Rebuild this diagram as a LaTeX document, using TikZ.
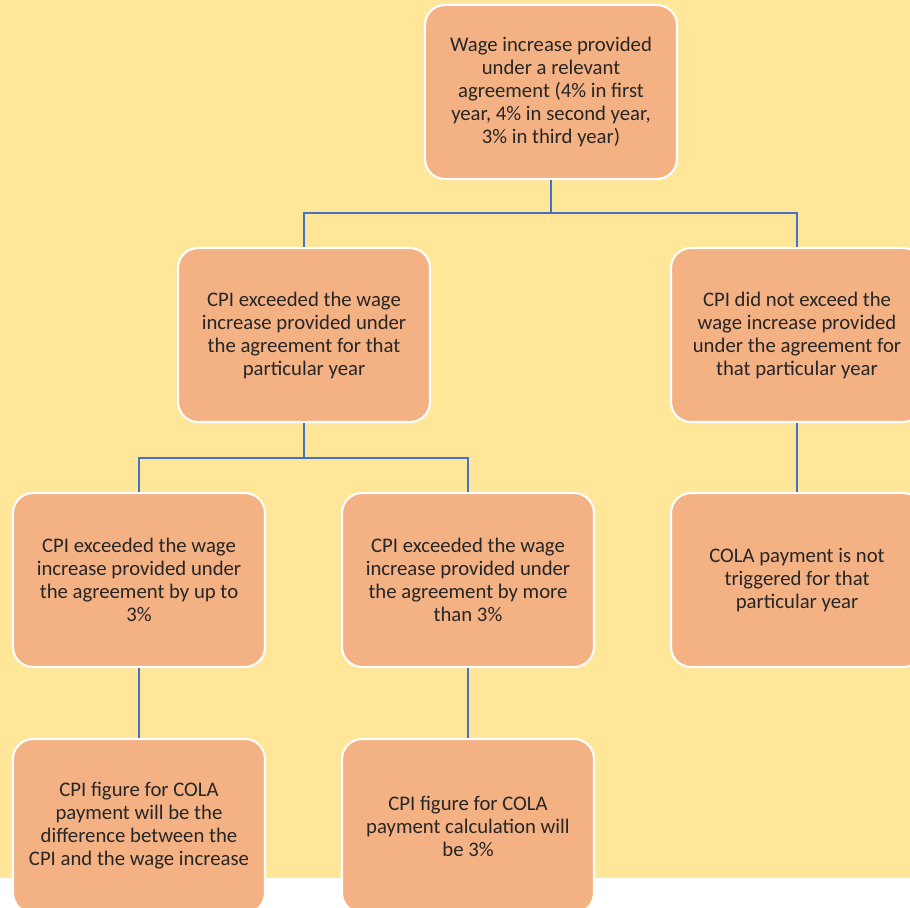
\documentclass[tikz,border=0pt]{standalone}
\usepackage{fontspec}
\setmainfont{Carlito}
\definecolor{bgyellow}{HTML}{FFE699}
\definecolor{boxfill}{HTML}{F4B183}
\definecolor{linkblue}{HTML}{4472C4}
\definecolor{txt}{HTML}{262626}
\begin{document}
\begin{tikzpicture}[x=0.02cm,y=-0.02cm,
  box/.style={draw=white,line width=1.2pt,fill=boxfill,rounded corners=0.4cm,
    minimum width=5.04cm,minimum height=3.48cm,align=center,
    text=txt,font=\fontsize{11.8pt}{13.1pt}\selectfont,inner sep=0pt},
  link/.style={draw=linkblue,line width=1.3pt}]
\useasboundingbox (0,0) rectangle (910,907);
\clip (0,0) rectangle (910,907);
\fill[bgyellow] (0,0) rectangle (910,878);
\fill[white] (0,878) rectangle (910,907);
\node[box] (top) at (551,92) {Wage increase provided\\under a relevant\\agreement (4\% in first\\year, 4\% in second year,\\3\% in third year)};
\node[box] (l1) at (304,335) {CPI exceeded the wage\\increase provided under\\the agreement for that\\particular year};
\node[box] (r1) at (797,335) {CPI did not exceed the\\wage increase provided\\under the agreement for\\that particular year};
\node[box] (l2a) at (139,580) {CPI exceeded the wage\\increase provided under\\the agreement by up to\\3\%};
\node[box] (l2b) at (468,580) {CPI exceeded the wage\\increase provided under\\the agreement by more\\than 3\%};
\node[box] (r2) at (797,580) {COLA payment is not\\triggered for that\\particular year};
\node[box] (l3a) at (139,826) {CPI figure for COLA\\payment will be the\\difference between the\\CPI and the wage increase};
\node[box] (l3b) at (468,826) {CPI figure for COLA\\payment calculation will\\be 3\%};
\coordinate (j1) at (551,213);
\coordinate (j2) at (304,458);
\draw[link] (top.south) -- (j1);
\draw[link] (j1) -| (l1.north);
\draw[link] (j1) -| (r1.north);
\draw[link] (l1.south) -- (j2);
\draw[link] (j2) -| (l2a.north);
\draw[link] (j2) -| (l2b.north);
\draw[link] (r1.south) -- (r2.north);
\draw[link] (l2a.south) -- (l3a.north);
\draw[link] (l2b.south) -- (l3b.north);
\end{tikzpicture}
\end{document}
